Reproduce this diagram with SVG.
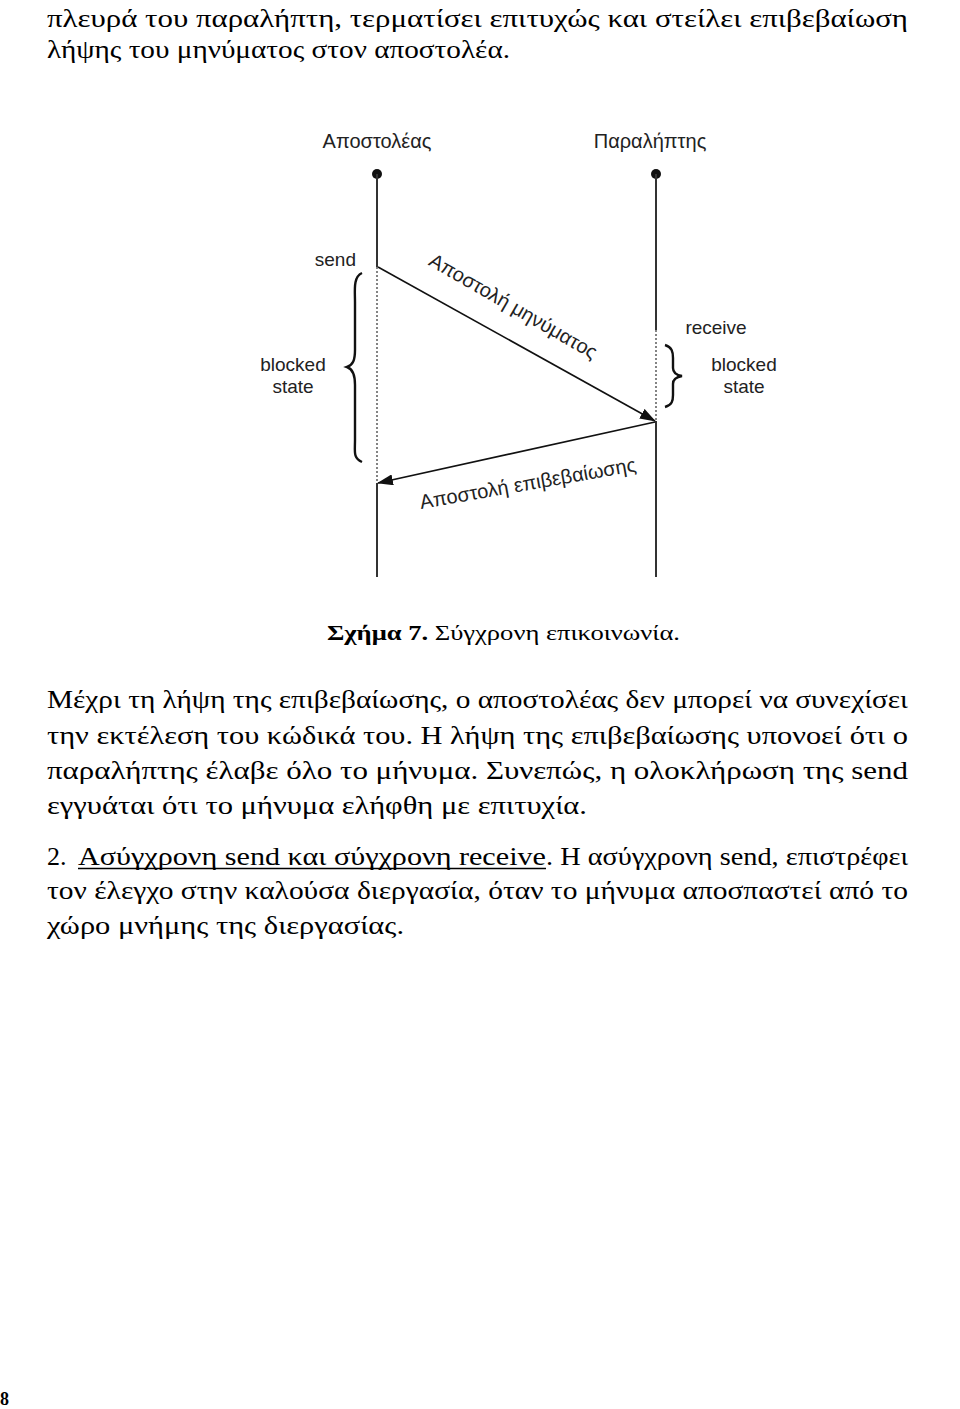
<svg xmlns="http://www.w3.org/2000/svg" width="960" height="1409" viewBox="0 0 960 1409">
<style>
.body{font-family:"Liberation Serif","Times New Roman",serif;font-size:26px;fill:#000}
.lbl{font-family:"Liberation Sans",Arial,sans-serif;font-size:19px;fill:#222}
.top{font-size:20px}
.rot{font-family:"Liberation Sans",Arial,sans-serif;font-size:20px;fill:#222}
.life{stroke:#333;stroke-width:2;fill:none}
.dot{stroke:#333;stroke-width:1.2;stroke-dasharray:2 2;fill:none}
.msg{stroke:#111;stroke-width:1.6;fill:none}
.brace{stroke:#111;stroke-width:2.4;fill:none}
</style>
<defs>
<marker id="ah" viewBox="0 0 16 11" refX="15" refY="5.5" markerWidth="16" markerHeight="11" markerUnits="userSpaceOnUse" orient="auto">
<path d="M0,0 L16,5.5 L0,11 Z" fill="#111"/>
</marker>
</defs>
<rect width="960" height="1409" fill="#fff"/>

<g id="text-top">
<text class="body" x="47" y="27" textLength="861" lengthAdjust="spacingAndGlyphs">πλευρά  του  παραλήπτη,  τερματίσει  επιτυχώς  και  στείλει  επιβεβαίωση</text>
<text class="body" x="47" y="58" textLength="463" lengthAdjust="spacingAndGlyphs">λήψης του μηνύματος στον αποστολέα.</text>
</g>

<g id="sender">
<text class="lbl top" x="377" y="148" text-anchor="middle">Αποστολέας</text>
<circle cx="377" cy="174" r="5" fill="#111"/>
<line class="life" x1="377" y1="174" x2="377" y2="267"/>
<line class="dot" x1="377" y1="267" x2="377" y2="483"/>
<line class="life" x1="377" y1="483" x2="377" y2="577"/>
<text class="lbl" x="356" y="266" text-anchor="end">send</text>
<path class="brace" d="M362,273 C353,277 355,290 355,302 L355,350 C355,360 353,365 347,367 C353,369 355,375 355,385 L355,440 C355,452 353,458 362,462"/>
<text class="lbl" x="293" y="371" text-anchor="middle">blocked</text>
<text class="lbl" x="293" y="393" text-anchor="middle">state</text>
</g>

<g id="receiver">
<text class="lbl top" x="650" y="148" text-anchor="middle">Παραλήπτης</text>
<circle cx="656" cy="174" r="5" fill="#111"/>
<line class="life" x1="656" y1="174" x2="656" y2="330"/>
<line class="dot" x1="656" y1="330" x2="656" y2="421"/>
<line class="life" x1="656" y1="421" x2="656" y2="577"/>
<text class="lbl" x="716" y="334" text-anchor="middle">receive</text>
<path class="brace" d="M665,345 C672,347 673,352 673,358 L673,368 C673,373 676,375 682,376 C676,377 673,379 673,384 L673,395 C673,401 672,405 665,407"/>
<text class="lbl" x="744" y="371" text-anchor="middle">blocked</text>
<text class="lbl" x="744" y="393" text-anchor="middle">state</text>
</g>

<g id="connectors">
<line class="msg" x1="378" y1="267" x2="655" y2="421" marker-end="url(#ah)"/>
<line class="msg" x1="655" y1="422" x2="378" y2="483" marker-end="url(#ah)"/>
<text class="rot" text-anchor="middle" transform="translate(510,312) rotate(30)">Αποστολή μηνύματος</text>
<text class="rot" text-anchor="middle" transform="translate(529,490) rotate(-10)">Αποστολή επιβεβαίωσης</text>
</g>

<g id="caption">
<text class="body" x="327" y="640" style="font-size:22px" textLength="353" lengthAdjust="spacingAndGlyphs"><tspan font-weight="bold">Σχήμα 7.</tspan> Σύγχρονη επικοινωνία.</text>
</g>

<g id="text-body">
<text class="body" x="47" y="708" textLength="861" lengthAdjust="spacingAndGlyphs">Μέχρι τη λήψη της επιβεβαίωσης, ο αποστολέας δεν μπορεί να συνεχίσει</text>
<text class="body" x="47" y="744" textLength="861" lengthAdjust="spacingAndGlyphs">την  εκτέλεση  του  κώδικά  του.  Η  λήψη  της  επιβεβαίωσης  υπονοεί  ότι  ο</text>
<text class="body" x="47" y="779" textLength="861" lengthAdjust="spacingAndGlyphs">παραλήπτης  έλαβε  όλο  το  μήνυμα.  Συνεπώς,  η  ολοκλήρωση  της  send</text>
<text class="body" x="47" y="814" textLength="540" lengthAdjust="spacingAndGlyphs">εγγυάται ότι το μήνυμα ελήφθη με επιτυχία.</text>
<text class="body" x="47" y="865">2.</text>
<text class="body" x="78" y="865" textLength="468" lengthAdjust="spacingAndGlyphs">Ασύγχρονη  send  και  σύγχρονη  receive</text>
<line x1="78" y1="868.5" x2="546" y2="868.5" stroke="#000" stroke-width="1.5"/>
<text class="body" x="546" y="865" textLength="362" lengthAdjust="spacingAndGlyphs">.  Η  ασύγχρονη  send,  επιστρέφει</text>
<text class="body" x="47" y="899" textLength="861" lengthAdjust="spacingAndGlyphs">τον έλεγχο στην καλούσα διεργασία, όταν το μήνυμα αποσπαστεί από το</text>
<text class="body" x="47" y="934" textLength="357" lengthAdjust="spacingAndGlyphs">χώρο μνήμης της διεργασίας.</text>
</g>

<g id="page-number">
<text class="body" x="0" y="1405" style="font-size:18px;font-weight:bold">8</text>
</g>
</svg>
